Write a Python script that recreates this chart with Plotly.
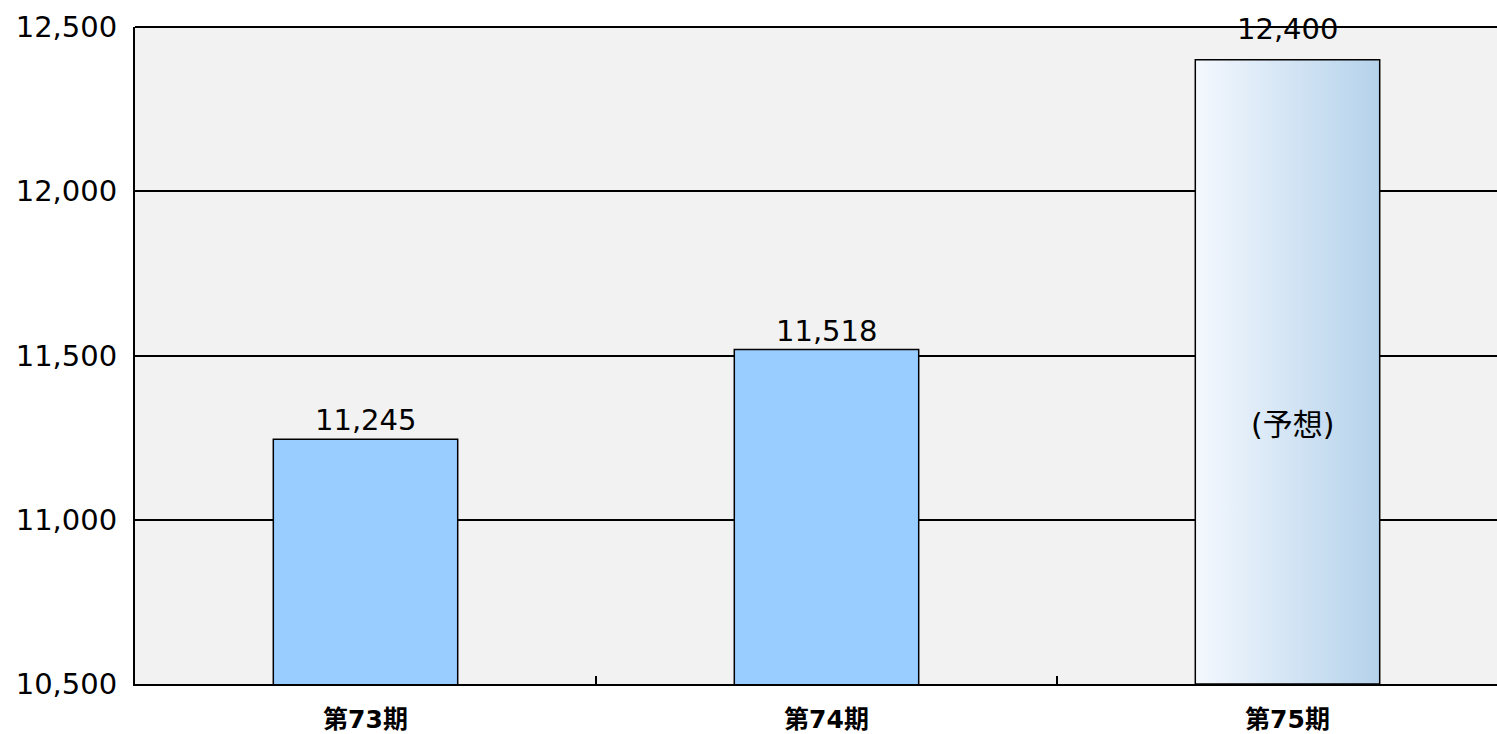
import plotly.graph_objects as go

# ---- data ----
categories = ["第73期", "第74期", "第75期"]
actual_values = [11245, 11518]          # 第73期, 第74期 (actual)
forecast_value = 12400                  # 第75期 (forecast)
forecast_label = "(予想)"
y_ticks = [10500, 11000, 11500, 12000, 12500]

all_values = actual_values + [forecast_value]
xpos = list(range(len(categories)))
bar_w = 0.4
y_min, y_max = 10500, 12500

fig = go.Figure()

# actual bars
fig.add_trace(go.Bar(
    x=xpos[:len(actual_values)], y=actual_values, width=bar_w,
    marker=dict(color="#99ccff", line=dict(color="#000000", width=1.5)),
    hoverinfo="skip",
))

# forecast bar drawn as a gradient-filled polygon derived from the value
fi = len(actual_values)
fx = [fi - bar_w / 2, fi - bar_w / 2, fi + bar_w / 2, fi + bar_w / 2, fi - bar_w / 2]
fy = [y_min, forecast_value, forecast_value, y_min, y_min]
fig.add_trace(go.Scatter(
    x=fx, y=fy, mode="lines", fill="toself",
    fillgradient=dict(type="horizontal",
                      colorscale=[[0, "#f4f8fe"], [1, "#b5d2eb"]]),
    line=dict(color="#000000", width=1.5),
    hoverinfo="skip",
))

# top border line at the top of the plot area
fig.add_shape(type="line", xref="paper", x0=0, x1=1, yref="paper", y0=1, y1=1,
              line=dict(color="#000000", width=2), layer="above")

# value labels
yshifts = [0, 0, 12]
for i, v in enumerate(all_values):
    fig.add_annotation(
        x=xpos[i], y=v, text=f"{v:,}", showarrow=False,
        yanchor="bottom", yshift=yshifts[i],
        font=dict(family="DejaVu Sans", size=29, color="#000000"),
    )

# forecast note
fig.add_annotation(
    x=xpos[fi] + 0.01, y=11290, text=forecast_label, showarrow=False,
    font=dict(family="DejaVu Sans, Noto Sans CJK JP", size=30, color="#000000"),
)

fig.update_layout(
    width=1497, height=734,
    margin=dict(l=135, r=0, t=27, b=50),
    paper_bgcolor="#ffffff", plot_bgcolor="#f2f2f2",
    showlegend=False,
    xaxis=dict(
        range=[-0.5, -0.5 + 1362 / 461],
        tickmode="array", tickvals=xpos, ticktext=categories,
        ticks="", showgrid=False, zeroline=False,
        showline=True, linecolor="#000000", linewidth=2,
        ticklabelstandoff=12,
        tickfont=dict(family="DejaVu Sans, Noto Sans CJK JP", size=25,
                      color="#000000", weight="bold"),
        minor=dict(tickmode="array", tickvals=[0.5, 1.5], ticks="inside",
                   ticklen=8, tickwidth=2, tickcolor="#000000", showgrid=False),
    ),
    yaxis=dict(
        range=[y_min, y_max],
        tickmode="array", tickvals=y_ticks,
        ticktext=[f"{t:,}" for t in y_ticks],
        ticks="", showgrid=True, gridcolor="#000000", gridwidth=1.5,
        zeroline=False, showline=True, linecolor="#000000", linewidth=2,
        ticklabelstandoff=10,
        tickfont=dict(family="DejaVu Sans", size=29, color="#000000"),
    ),
)

fig.write_html("out.html")
